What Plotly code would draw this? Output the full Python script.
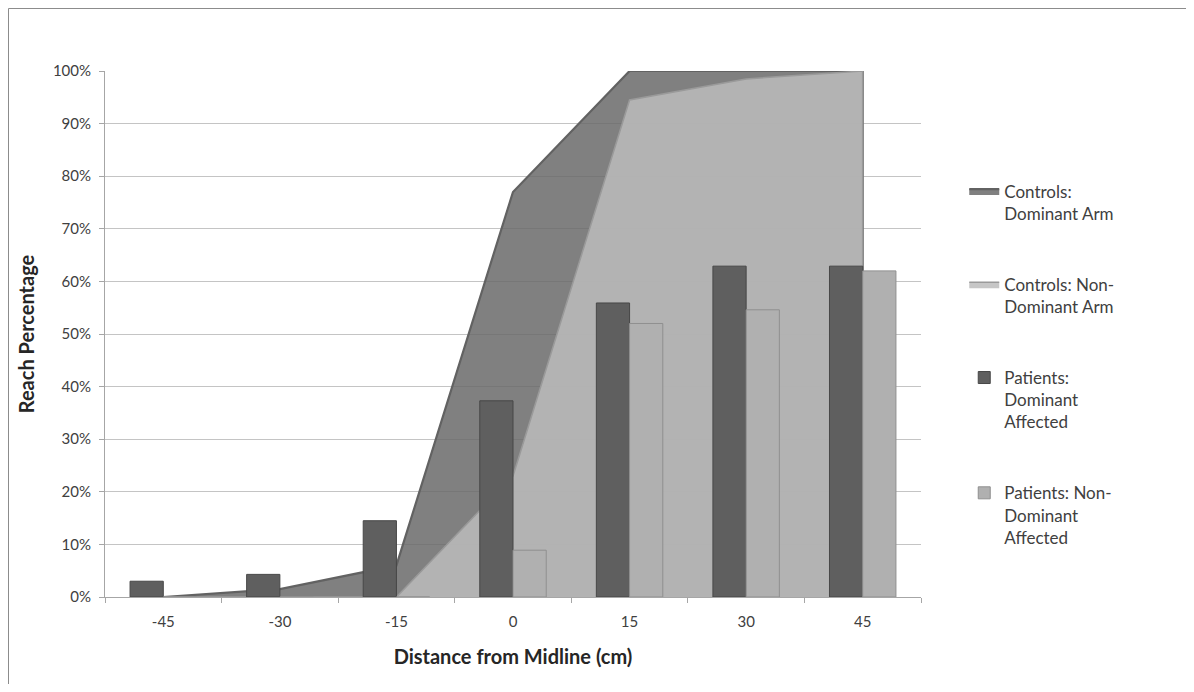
import plotly.graph_objects as go

categories = ["-45", "-30", "-15", "0", "15", "30", "45"]

controls_dominant = [0.0, 0.015, 0.06, 0.77, 1.00, 1.00, 1.00]
controls_nondominant = [0.0, 0.0, 0.0, 0.23, 0.945, 0.985, 1.00]
patients_dominant = [0.03, 0.043, 0.145, 0.373, 0.559, 0.629, 0.629]
patients_nondominant = [0.0, 0.0, 0.0, 0.089, 0.52, 0.546, 0.62]

series_names = [
    "Controls:<br>Dominant Arm",
    "Controls: Non-<br>Dominant Arm",
    "Patients:<br>Dominant<br>Affected",
    "Patients: Non-<br>Dominant<br>Affected",
]

FONT = "Lato, 'Open Sans', sans-serif"
TXT = "#404040"

# area outlines close down to the baseline at the last category
area_x = categories + [categories[-1]]

fig = go.Figure()

# areas on the main axes (drawn below the bars)
fig.add_trace(go.Scatter(
    x=area_x, y=controls_dominant + [0], name=series_names[0],
    mode="lines", fill="tozeroy", fillcolor="rgba(106,106,106,0.85)",
    line=dict(color="#626262", width=2.2), legendgroup="a",
    xaxis="x", yaxis="y"))
fig.add_trace(go.Scatter(
    x=area_x, y=controls_nondominant + [0], name=series_names[1],
    mode="lines", fill="tozeroy", fillcolor="rgba(188,188,188,0.85)",
    line=dict(color="#9a9a9a", width=1.5), legendgroup="b",
    xaxis="x", yaxis="y"))

# bars on an overlaid pair of axes (drawn above the areas)
fig.add_trace(go.Bar(
    x=categories, y=patients_dominant, name=series_names[2],
    marker=dict(color="#5f5f5f", line=dict(color="#474747", width=1)),
    legendgroup="c", xaxis="x2", yaxis="y2"))
fig.add_trace(go.Bar(
    x=categories, y=patients_nondominant, name=series_names[3],
    marker=dict(color="#b0b0b0", line=dict(color="#8f8f8f", width=1)),
    legendgroup="d", xaxis="x2", yaxis="y2"))

fig.update_layout(
    width=1178, height=676,
    margin=dict(l=97, r=265, t=63, b=87),
    paper_bgcolor="white", plot_bgcolor="white",
    font=dict(family=FONT, size=15, color=TXT),
    barmode="group", bargap=0.43, bargroupgap=0.0,
    showlegend=True,
    legend=dict(
        x=1.053, y=0.805, xanchor="left", yanchor="top",
        font=dict(family=FONT, size=17, color=TXT),
        tracegroupgap=46, valign="top", traceorder="grouped",
        bgcolor="rgba(0,0,0,0)",
    ),
    xaxis=dict(
        type="category", range=[-0.5, 6.5], tickson="boundaries",
        ticks="outside", ticklen=5, tickcolor="#a6a6a6",
        showline=True, linecolor="#a6a6a6", linewidth=1,
        showgrid=False, zeroline=False, ticklabelstandoff=11,
        tickfont=dict(size=15, color=TXT),
        title=dict(text="<b>Distance from Midline (cm)</b>",
                   font=dict(size=20, color="#262626"), standoff=20),
    ),
    yaxis=dict(
        range=[0, 1], tickvals=[i / 10 for i in range(11)], tickformat=".0%",
        ticks="outside", ticklen=5, tickcolor="#a6a6a6",
        showline=True, linecolor="#a6a6a6", linewidth=1,
        showgrid=True, gridcolor="#c4c4c4", gridwidth=1, zeroline=False,
        ticklabelstandoff=5,
        tickfont=dict(size=15, color=TXT),
        title=dict(text="<b>Reach Percentage</b>",
                   font=dict(size=20, color="#262626"), standoff=12),
    ),
    xaxis2=dict(
        type="category", range=[-0.5, 6.5], overlaying="x",
        visible=False, showgrid=False,
    ),
    yaxis2=dict(
        range=[0, 1], overlaying="y", visible=False, showgrid=False,
    ),
    shapes=[
        dict(type="line", xref="paper", yref="paper",
             x0=(8.5 - 105) / 816, x1=(8.5 - 105) / 816,
             y0=-0.2, y1=(597 - 8.5) / 526,
             line=dict(color="#8c8c8c", width=1)),
        dict(type="line", xref="paper", yref="paper",
             x0=(8.5 - 105) / 816, x1=1.4,
             y0=(597 - 8.5) / 526, y1=(597 - 8.5) / 526,
             line=dict(color="#8c8c8c", width=1)),
    ],
)

fig.write_html("out.html")
